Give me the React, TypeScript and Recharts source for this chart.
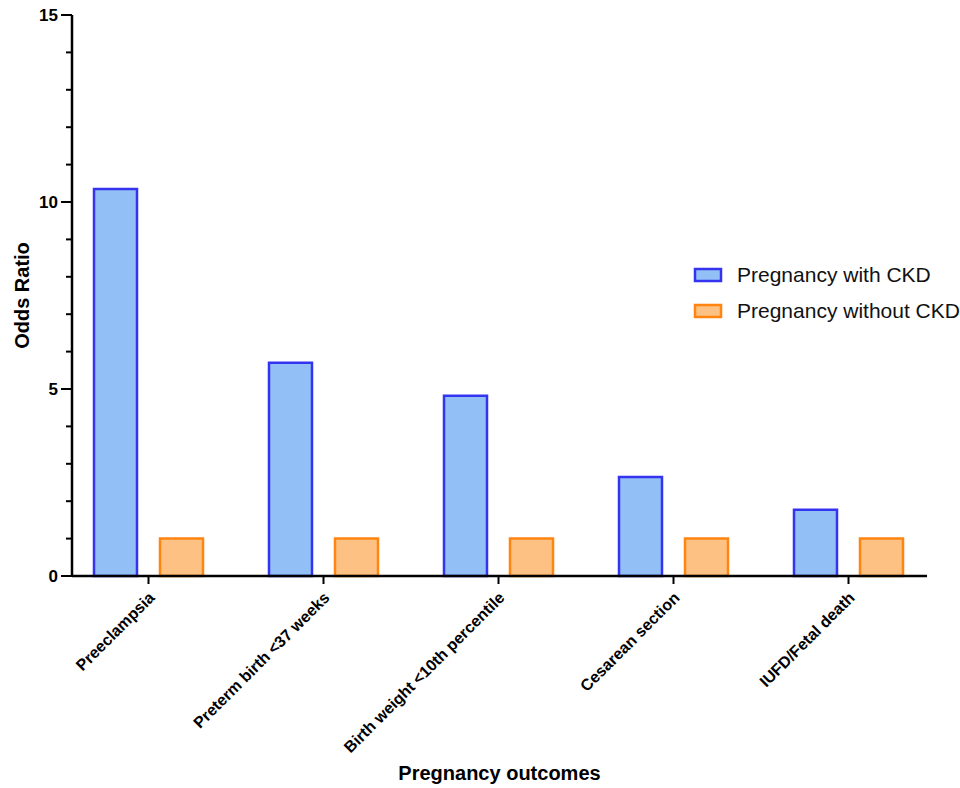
import { BarChart, Bar, XAxis, YAxis, Legend } from "recharts";

const categories = [
  "Preeclampsia",
  "Preterm birth <37 weeks",
  "Birth weight <10th percentile",
  "Cesarean section",
  "IUFD/Fetal death",
];
const withCKD = [10.35, 5.7, 4.82, 2.65, 1.77];
const withoutCKD = [1, 1, 1, 1, 1];
const yTicks = [0, 1, 2, 3, 4, 5, 6, 7, 8, 9, 10, 11, 12, 13, 14, 15];

const seriesNames = ["Pregnancy with CKD", "Pregnancy without CKD"];
const BLUE_FILL = "#93bff7";
const BLUE_STROKE = "#3434f0";
const ORANGE_FILL = "#fdc283";
const ORANGE_STROKE = "#ff8410";
const FONT = '"Liberation Sans", Arial, sans-serif';

const Y_TICK_SIZE = 10;
const Y_TICK_MARGIN = 4;

const data = categories.map((name, i) => ({
  name,
  ckd: withCKD[i],
  noCkd: withoutCKD[i],
}));

function YTick(props: any) {
  const { x, y, payload } = props;
  const axisX = x + Y_TICK_SIZE + Y_TICK_MARGIN;
  const major = payload.value % 5 === 0;
  return (
    <g>
      <line
        x1={axisX - (major ? 11 : 6)}
        x2={axisX}
        y1={y}
        y2={y}
        stroke="#000"
        strokeWidth={2}
      />
      {major && (
        <text
          x={x}
          y={y}
          dy="0.36em"
          textAnchor="end"
          fontSize={17}
          fontWeight="bold"
          fontFamily={FONT}
          fill="#000"
        >
          {payload.value}
        </text>
      )}
    </g>
  );
}

function XTick(props: any) {
  const { x, y, payload } = props;
  return (
    <g transform={`translate(${x},${y})`}>
      <text
        x={-4}
        y={14}
        textAnchor="end"
        transform="rotate(-45)"
        fontSize={16}
        fontWeight="bold"
        fontFamily={FONT}
        fill="#000"
      >
        {payload.value}
      </text>
    </g>
  );
}

function YLabel(props: any) {
  const vb = props.viewBox || { x: 12, y: 15, width: 60, height: 561 };
  const cx = vb.x + 10;
  const cy = vb.y + vb.height / 2;
  return (
    <text
      x={cx}
      y={cy}
      transform={`rotate(-90, ${cx}, ${cy})`}
      textAnchor="middle"
      dominantBaseline="central"
      fontSize={20}
      fontWeight="bold"
      fontFamily={FONT}
      fill="#000"
    >
      Odds Ratio
    </text>
  );
}

function LegendBox() {
  const items = [
    { label: seriesNames[0], fill: BLUE_FILL, stroke: BLUE_STROKE },
    { label: seriesNames[1], fill: ORANGE_FILL, stroke: ORANGE_STROKE },
  ];
  return (
    <div style={{ fontFamily: FONT }}>
      {items.map((it) => (
        <div
          key={it.label}
          style={{ display: "flex", alignItems: "center", height: 36 }}
        >
          <svg width={30} height={16} style={{ marginRight: 14 }}>
            <rect
              x={2}
              y={2}
              width={26}
              height={12}
              fill={it.fill}
              stroke={it.stroke}
              strokeWidth={2.5}
            />
          </svg>
          <span style={{ fontSize: 21, color: "#111", whiteSpace: "nowrap" }}>
            {it.label}
          </span>
        </div>
      ))}
    </div>
  );
}

export default function App() {
  return (
    <div
      style={{
        position: "absolute",
        left: 0,
        top: 0,
        width: 960,
        height: 788,
        background: "#fff",
      }}
    >
      <BarChart
        width={960}
        height={788}
        data={data}
        margin={{ top: 15, right: 33, bottom: 0, left: 12 }}
        barSize={43}
        barGap={23}
      >
        <XAxis
          dataKey="name"
          height={212}
          padding={{ left: -11, right: -9 }}
          interval={0}
          axisLine={{ stroke: "#000", strokeWidth: 2.5 }}
          tickLine={{ stroke: "#000", strokeWidth: 2 }}
          tickSize={8}
          tickMargin={2}
          tick={<XTick />}
          label={{
            value: "Pregnancy outcomes",
            position: "insideBottom",
            offset: 8,
            fontSize: 20,
            fontWeight: "bold",
            fontFamily: FONT,
            fill: "#000",
          }}
        />
        <YAxis
          width={60}
          domain={[0, 15]}
          ticks={yTicks}
          interval={0}
          axisLine={{ stroke: "#000", strokeWidth: 2.5 }}
          tickLine={false}
          tickSize={Y_TICK_SIZE}
          tickMargin={Y_TICK_MARGIN}
          tick={<YTick />}
          label={<YLabel />}
        />
        <Legend
          layout="horizontal"
          verticalAlign="middle"
          align="center"
          content={<LegendBox />}
          wrapperStyle={{ left: 693, top: 257, width: "auto" }}
        />
        <Bar
          dataKey="ckd"
          name={seriesNames[0]}
          fill={BLUE_FILL}
          stroke={BLUE_STROKE}
          strokeWidth={2.5}
          isAnimationActive={false}
        />
        <Bar
          dataKey="noCkd"
          name={seriesNames[1]}
          fill={ORANGE_FILL}
          stroke={ORANGE_STROKE}
          strokeWidth={2.5}
          isAnimationActive={false}
        />
      </BarChart>
    </div>
  );
}
